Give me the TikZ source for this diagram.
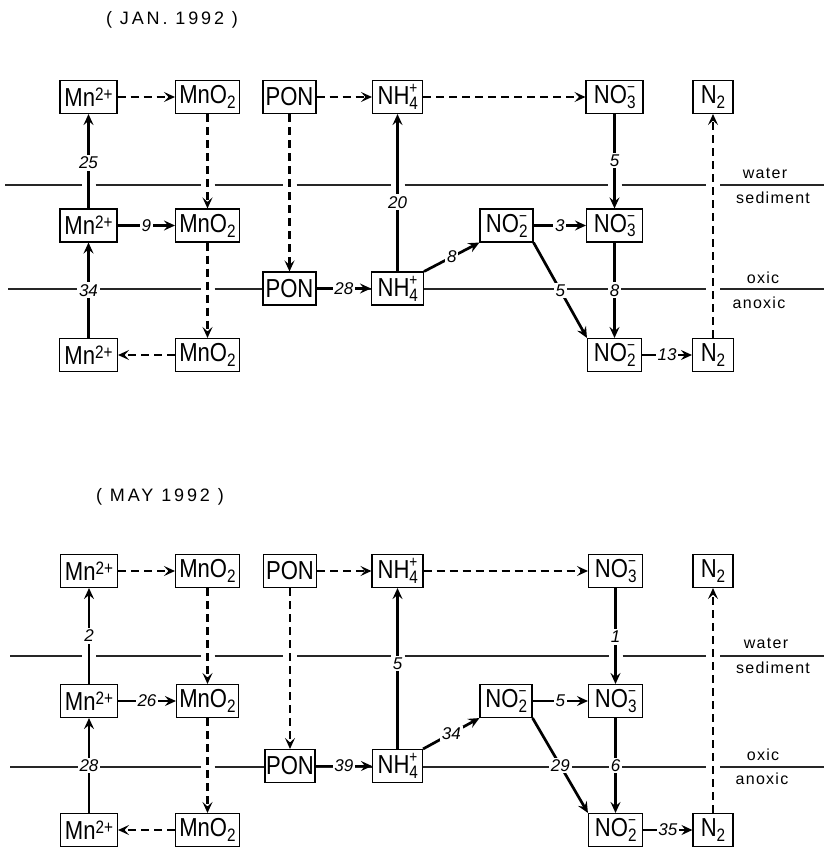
\documentclass[tikz,border=0pt]{standalone}
\usepackage{fontspec}
\setmainfont{Liberation Sans}
\newfontfamily\spacedfont[LetterSpace=8]{Liberation Sans}
\newfontfamily\titlefont[LetterSpace=16]{Liberation Sans}
\usetikzlibrary{arrows.meta}
\newcommand{\sps}[1]{\raisebox{0.42ex}{\fontsize{18}{18}\selectfont #1}}
\newcommand{\sbs}[1]{\raisebox{-0.36ex}{\fontsize{18}{18}\selectfont #1}}
\newcommand{\sbsp}[2]{{\makebox[0pt][l]{\raisebox{-0.36ex}{\fontsize{18}{18}\selectfont #1}}\raisebox{0.8ex}{\fontsize{16}{16}\selectfont #2}}}
\newcommand{\bx}[1]{\scalebox{0.85}[1]{#1}}
\begin{document}
\begin{tikzpicture}[x=1pt,y=-1pt,
  box/.style={draw,line width=1.1pt,fill=white,minimum height=33pt,inner sep=0pt,font=\fontsize{26}{26}\selectfont},
  lbl/.style={fill=white,inner sep=1.8pt,font=\fontsize{17}{17}\selectfont\itshape},
  hline/.style={line width=1.2pt,black!85},
  side/.style={font=\fontsize{16}{16}\selectfont\spacedfont},
  ttl/.style={font=\fontsize{18}{18}\selectfont\titlefont},
  sol/.style={line width=2.7pt,-{Stealth[length=11pt,width=10pt,inset=4pt]}},
  dsh/.style={line width=2.5pt,dash pattern=on 8pt off 5pt,-{Stealth[length=11pt,width=10pt,inset=4.5pt,open,line width=1.8pt]}}]
\useasboundingbox (0,0) rectangle (824,850);

% ================= JAN 1992 =================
\node[ttl] (t1) at (172,20) {( JAN. 1992 )};
% water / sediment boundary, broken where connectors cross
\foreach \a/\b in {5/81.5, 95.5/200.5, 214.5/282.5, 296.5/390.5, 404.5/607.5, 621.5/706, 720/824}
  \draw[hline] (\a,185) -- (\b,185);
% oxic / anoxic boundary
\foreach \a/\b in {8/200.5, 214.5/706, 720/824}
  \draw[hline] (\a,289) -- (\b,289);
\node[side] (wa1) at (765,173) {water};
\node[side] (se1) at (773,198) {sediment};
\node[side] (ox1) at (763,278) {oxic};
\node[side] (an1) at (759,303) {anoxic};

\node[box,minimum width=57pt] (m1) at (88.5,97) {\bx{Mn\sps{2+}}};
\node[box,minimum width=64pt] (o1) at (207.5,97) {\bx{MnO\sbs{2}}};
\node[box,minimum width=53pt] (p1) at (289.5,97) {\bx{PON}};
\node[box,minimum width=50pt] (h1) at (397.5,97) {\bx{NH\sbsp{4}{+}}};
\node[box,minimum width=57pt] (n1) at (614.5,97) {\bx{NO\sbsp{3}{−}}};
\node[box,minimum width=40pt] (z1) at (713,97) {\bx{N\sbs{2}}};

\node[box,minimum width=57pt] (m2) at (88.5,225.5) {\bx{Mn\sps{2+}}};
\node[box,minimum width=64pt] (o2) at (207.5,225.5) {\bx{MnO\sbs{2}}};
\node[box,minimum width=53pt] (q2) at (506.5,225.5) {\bx{NO\sbsp{2}{−}}};
\node[box,minimum width=56pt] (n2) at (614.5,225.5) {\bx{NO\sbsp{3}{−}}};

\node[box,minimum width=53pt] (p3) at (289.5,288.5) {\bx{PON}};
\node[box,minimum width=52pt] (h3) at (397.5,288.5) {\bx{NH\sbsp{4}{+}}};

\node[box,minimum width=58pt] (m4) at (88.5,355) {\bx{Mn\sps{2+}}};
\node[box,minimum width=64pt] (o4) at (207.5,355) {\bx{MnO\sbs{2}}};
\node[box,minimum width=54pt] (q4) at (614.5,355) {\bx{NO\sbsp{2}{−}}};
\node[box,minimum width=41pt] (z4) at (713,355) {\bx{N\sbs{2}}};

\draw[dsh] (m1) -- (o1);
\draw[dsh] (o1) -- (o2);
\draw[dsh] (o2) -- (o4);
\draw[dsh] (o4) -- (m4);
\draw[sol] (m4) -- node[lbl]{34} (m2);
\draw[sol] (m2) -- node[lbl,pos=0.48]{25} (m1);
\draw[sol] (m2) -- node[lbl]{9} (o2);
\draw[dsh] (p1) -- (h1);
\draw[dsh] (p1) -- (p3);
\draw[sol] (p3) -- node[lbl]{28} (h3);
\draw[sol] (h3) -- node[lbl,pos=0.44]{20} (h1);
\draw[dsh] (h1) -- (n1);
\draw[sol] (n1) -- node[lbl,pos=0.49]{5} (n2);
\draw[sol] (h3.north east) -- node[lbl]{8} (q2.south west);
\draw[sol] (q2) -- node[lbl]{3} (n2);
\draw[sol] (q2.south east) -- node[lbl]{5} (q4.north west);
\draw[sol] (n2) -- node[lbl]{8} (q4);
\draw[sol] (q4) -- node[lbl]{13} (z4);
\draw[dsh] (z4) -- (z1);

% ================= MAY 1992 =================
\node[ttl] (t2) at (160,497) {( MAY 1992 )};
\foreach \a/\b in {10/82, 96/200.5, 214.5/283, 297/390.5, 404.5/608.5, 622.5/706, 720/824}
  \draw[hline] (\a,656) -- (\b,656);
\foreach \a/\b in {10/200.5, 214.5/706, 720/824}
  \draw[hline] (\a,767) -- (\b,767);
\node[side] (wa2) at (766,643) {water};
\node[side] (se2) at (773,668) {sediment};
\node[side] (ox2) at (763,755) {oxic};
\node[side] (an2) at (762,779) {anoxic};

\node[box,minimum width=57pt] (M1) at (89,571) {\bx{Mn\sps{2+}}};
\node[box,minimum width=64pt] (O1) at (207.5,571) {\bx{MnO\sbs{2}}};
\node[box,minimum width=53pt] (P1) at (290,571) {\bx{PON}};
\node[box,minimum width=51pt] (H1) at (397.5,571) {\bx{NH\sbsp{4}{+}}};
\node[box,minimum width=54pt] (N1) at (615.5,571) {\bx{NO\sbsp{3}{−}}};
\node[box,minimum width=40pt] (Z1) at (713,571) {\bx{N\sbs{2}}};

\node[box,minimum width=57pt] (M2) at (89,701) {\bx{Mn\sps{2+}}};
\node[box,minimum width=62pt] (O2) at (207.5,701) {\bx{MnO\sbs{2}}};
\node[box,minimum width=52pt] (Q2) at (506,701) {\bx{NO\sbsp{2}{−}}};
\node[box,minimum width=54pt] (N2) at (615.5,701) {\bx{NO\sbsp{3}{−}}};

\node[box,minimum width=50pt] (P3) at (290,766) {\bx{PON}};
\node[box,minimum width=50pt] (H3) at (397.5,766) {\bx{NH\sbsp{4}{+}}};

\node[box,minimum width=57pt] (M4) at (89,830) {\bx{Mn\sps{2+}}};
\node[box,minimum width=64pt] (O4) at (207.5,830) {\bx{MnO\sbs{2}}};
\node[box,minimum width=54pt] (Q4) at (615.5,830) {\bx{NO\sbsp{2}{−}}};
\node[box,minimum width=40pt] (Z4) at (713,830) {\bx{N\sbs{2}}};

\draw[dsh] (M1) -- (O1);
\draw[dsh] (O1) -- (O2);
\draw[dsh] (O2) -- (O4);
\draw[dsh] (O4) -- (M4);
\draw[sol] (M4) -- node[lbl]{28} (M2);
\draw[sol] (M2) -- node[lbl]{2} (M1);
\draw[sol] (M2) -- node[lbl]{26} (O2);
\draw[dsh] (P1) -- (H1);
\draw[dsh] (P1) -- (P3);
\draw[sol] (P3) -- node[lbl]{39} (H3);
\draw[sol] (H3) -- node[lbl,pos=0.53]{5} (H1);
\draw[dsh] (H1) -- (N1);
\draw[sol] (N1) -- node[lbl,pos=0.51]{1} (N2);
\draw[sol] (H3.north east) -- node[lbl]{34} (Q2.south west);
\draw[sol] (Q2) -- node[lbl]{5} (N2);
\draw[sol] (Q2.south east) -- node[lbl]{29} (Q4.north west);
\draw[sol] (N2) -- node[lbl]{6} (Q4);
\draw[sol] (Q4) -- node[lbl]{35} (Z4);
\draw[dsh] (Z4) -- (Z1);
\end{tikzpicture}
\end{document}
